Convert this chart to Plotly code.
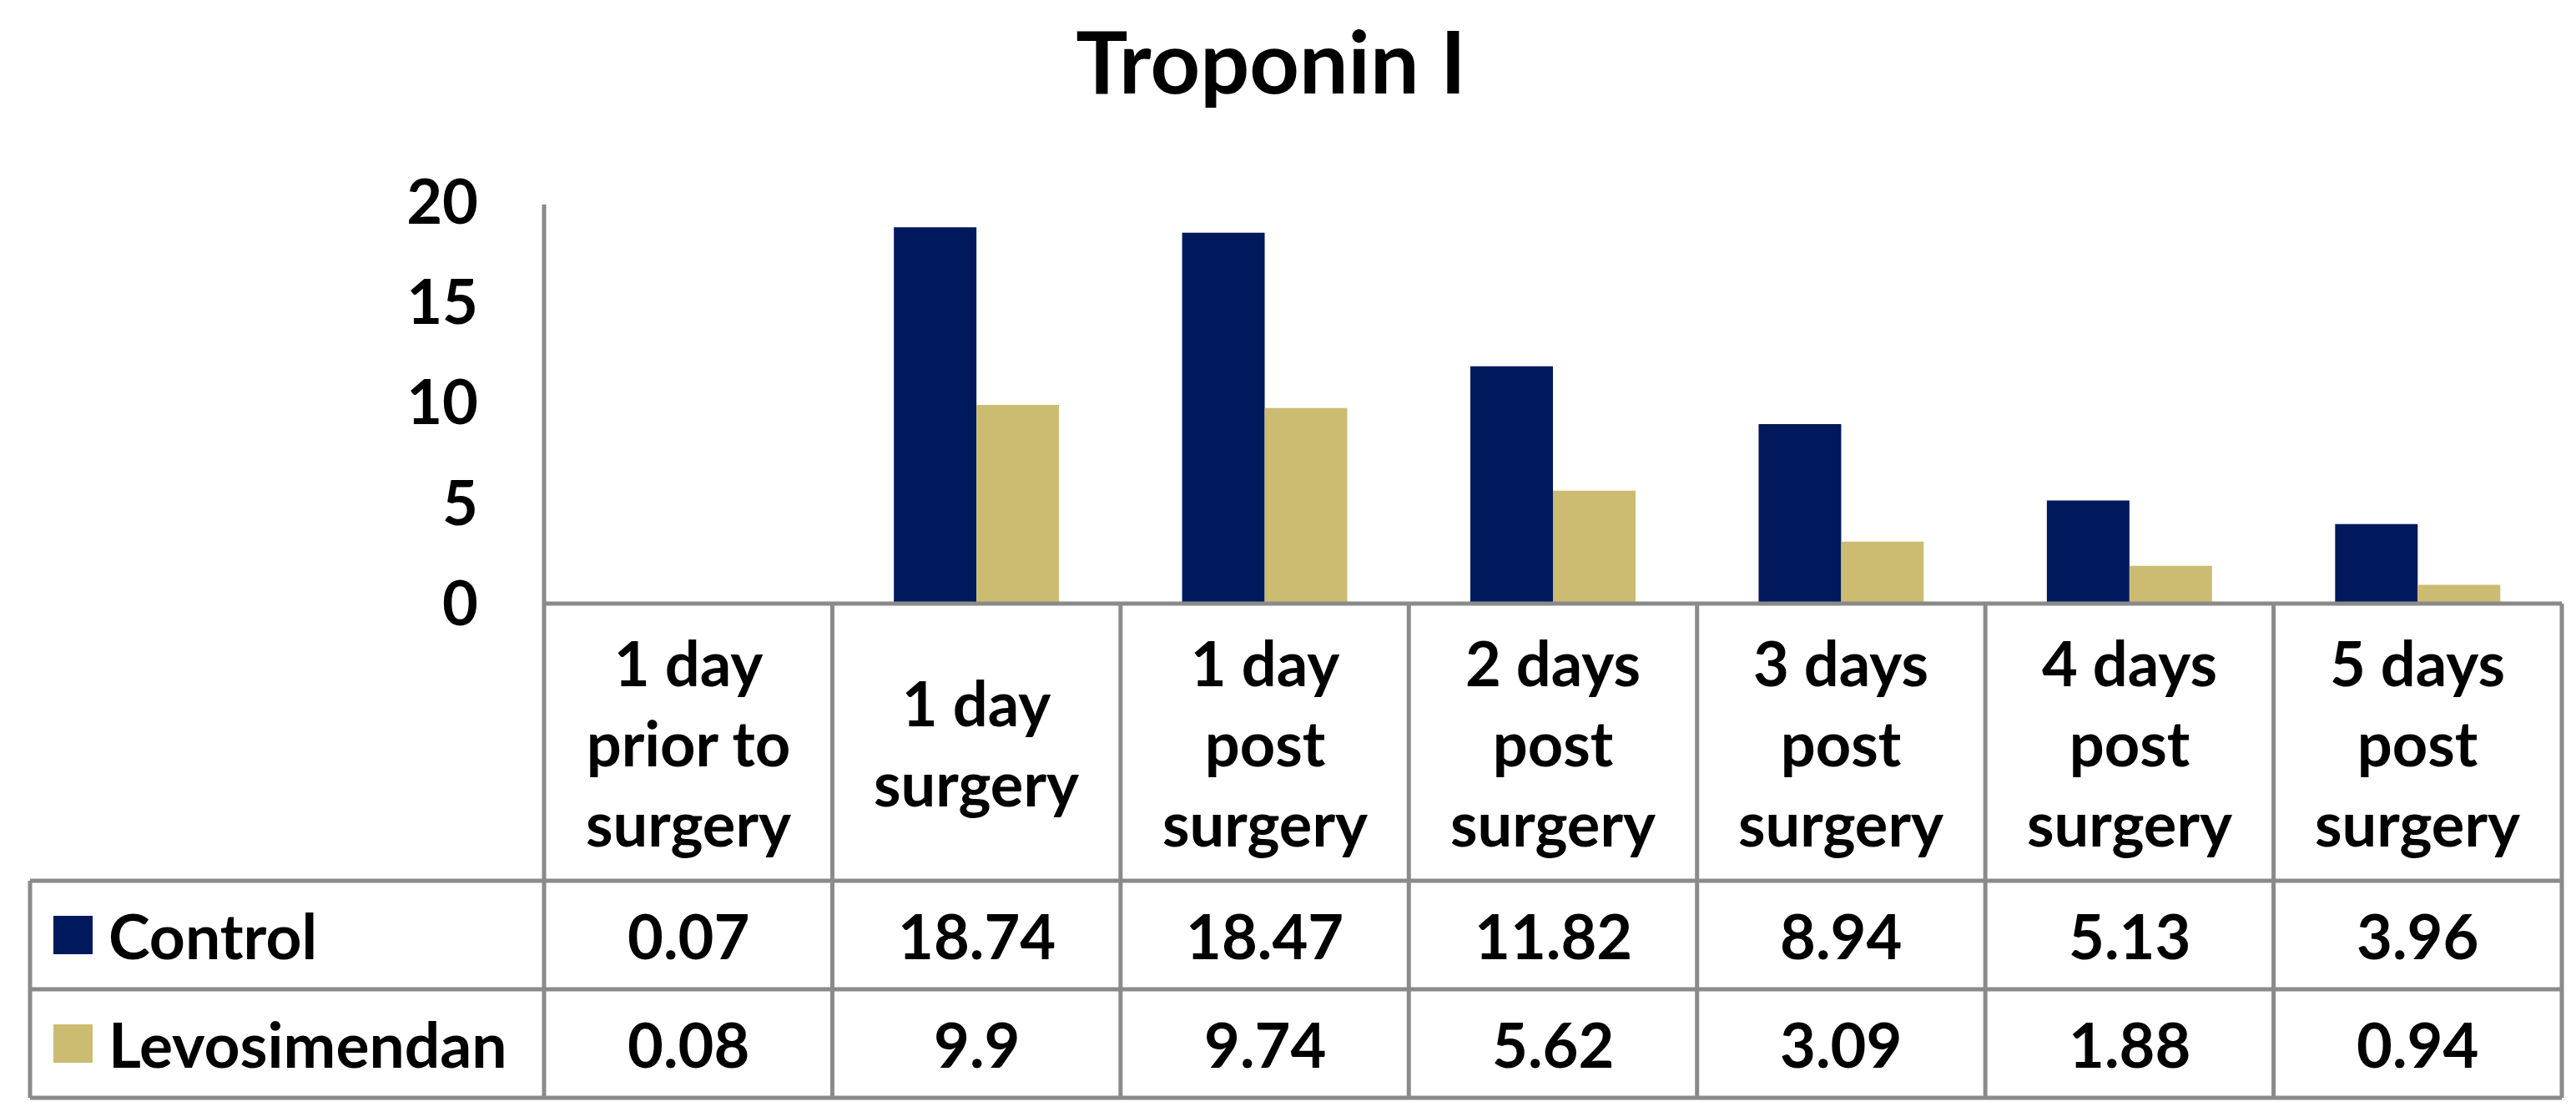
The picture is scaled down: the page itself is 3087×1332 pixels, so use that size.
import plotly.graph_objects as go

categories = ["1 day<br>prior to<br>surgery", "1 day<br>surgery", "1 day<br>post<br>surgery",
              "2 days<br>post<br>surgery", "3 days<br>post<br>surgery", "4 days<br>post<br>surgery",
              "5 days<br>post<br>surgery"]
series_names = ["Control", "Levosimendan"]
control = [0.07, 18.74, 18.47, 11.82, 8.94, 5.13, 3.96]
levosimendan = [0.08, 9.9, 9.74, 5.62, 3.09, 1.88, 0.94]
value_labels = [
    ["0.07", "18.74", "18.47", "11.82", "8.94", "5.13", "3.96"],
    ["0.08", "9.9", "9.74", "5.62", "3.09", "1.88", "0.94"],
]
y_ticks = [0, 5, 10, 15, 20]
colors = ["#00195C", "#CCBC72"]

W_PX, H_PX = 3087, 1332
L, R = 644, 3062          # plot area left/right (px)
T, B = 234, 715           # plot area top/bottom (px)
PW, PH = R - L, B - T
TABLE_LEFT = 28
ROW_LINES = [1047, 1177, 1307]
LINE_COLOR = "#8A8A8A"
LW = 5
FONT = "Lato"
FS = 74


def px(x):
    return (x - L) / PW


def py(y):
    return (B - y) / PH


idx = list(range(len(categories)))

fig = go.Figure()
for name, vals, col in zip(series_names, [control, levosimendan], colors):
    fig.add_trace(go.Bar(x=idx, y=vals, name=name, marker=dict(color=col, line=dict(width=0)),
                         showlegend=False))

shapes = []
n = len(categories)
# y-axis line extended through header row
shapes.append(dict(type="line", xref="paper", yref="paper", x0=0, x1=0, y0=py(237), y1=py(ROW_LINES[-1]),
                   line=dict(color=LINE_COLOR, width=LW)))
# column separators
for k in range(1, n + 1):
    shapes.append(dict(type="line", xref="paper", yref="paper", x0=k / n, x1=k / n, y0=0,
                       y1=py(ROW_LINES[-1]), line=dict(color=LINE_COLOR, width=LW)))
# zero line / table top
shapes.append(dict(type="line", xref="paper", yref="paper", x0=0, x1=1, y0=0, y1=0,
                   line=dict(color=LINE_COLOR, width=LW)))
for yl in ROW_LINES:
    shapes.append(dict(type="line", xref="paper", yref="paper", x0=px(TABLE_LEFT), x1=1,
                       y0=py(yl), y1=py(yl), line=dict(color=LINE_COLOR, width=LW)))
shapes.append(dict(type="line", xref="paper", yref="paper", x0=px(TABLE_LEFT), x1=px(TABLE_LEFT),
                   y0=py(ROW_LINES[0]), y1=py(ROW_LINES[-1]), line=dict(color=LINE_COLOR, width=LW)))

annotations = []
header_y = py((B + ROW_LINES[0]) / 2)
row_y = [py((ROW_LINES[0] + ROW_LINES[1]) / 2), py((ROW_LINES[1] + ROW_LINES[2]) / 2)]
for i, c in enumerate(categories):
    annotations.append(dict(x=i, xref="x", y=header_y, yref="paper", text="<b>" + c + "</b>",
                            showarrow=False, xanchor="center", yanchor="middle",
                            font=dict(family=FONT, size=FS, color="black")))
for r, labels in enumerate(value_labels):
    for i, t in enumerate(labels):
        annotations.append(dict(x=i, xref="x", y=row_y[r], yref="paper", text="<b>" + t + "</b>",
                                showarrow=False, xanchor="center", yanchor="middle",
                                font=dict(family=FONT, size=FS, color="black")))
    # legend key
    shapes.append(dict(type="rect", xref="paper", yref="paper", x0=px(56), x1=px(103),
                       y0=row_y[r] - 23 / PH, y1=row_y[r] + 23 / PH,
                       fillcolor=colors[r], line=dict(width=0)))
    annotations.append(dict(x=px(120), xref="paper", y=row_y[r], yref="paper",
                            text="<b>" + series_names[r] + "</b>", showarrow=False,
                            xanchor="left", yanchor="middle",
                            font=dict(family=FONT, size=FS + 1, color="black")))

fig.update_layout(
    width=W_PX, height=H_PX,
    margin=dict(l=L, r=W_PX - R, t=T, b=H_PX - B, pad=0),
    paper_bgcolor="white", plot_bgcolor="white",
    barmode="group", bargap=0.427, bargroupgap=0,
    title=dict(text="<b>Troponin I</b>", x=1515 / W_PX, xanchor="center", xref="container",
               y=1 - 68 / H_PX, yanchor="middle", yref="container",
               font=dict(family=FONT, size=104, color="black")),
    xaxis=dict(range=[-0.5, n - 0.5], showticklabels=False, showgrid=False, zeroline=False,
               showline=False, ticks=""),
    yaxis=dict(range=[0, 20], tickvals=y_ticks, showgrid=False, zeroline=False, showline=False,
               ticks="", ticklabelstandoff=78,
               tickfont=dict(family=FONT, size=FS, color="black", weight="bold")),
    shapes=shapes, annotations=annotations,
)

fig.write_html("out.html")
